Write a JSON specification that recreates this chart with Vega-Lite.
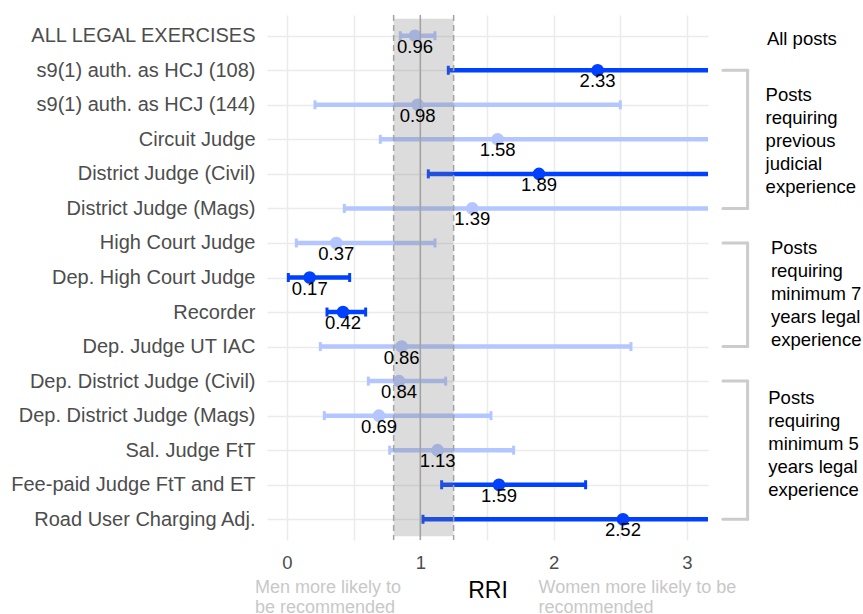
{
  "$schema": "https://vega.github.io/schema/vega-lite/v6.json",
  "width": 441,
  "height": 525,
  "autosize": {"type": "none"},
  "padding": {"left": 267, "top": 15, "right": 155, "bottom": 74},
  "background": "white",
  "config": {
    "view": {"stroke": null},
    "font": "Liberation Sans"
  },
  "datasets": {
    "rri": [
      {"post": "ALL LEGAL EXERCISES", "rri": 0.96, "lo": 0.85, "hi": 1.11, "sig": "no"},
      {"post": "s9(1) auth. as HCJ (108)", "rri": 2.33, "lo": 1.21, "hi": 4.5, "sig": "yes"},
      {"post": "s9(1) auth. as HCJ (144)", "rri": 0.98, "lo": 0.21, "hi": 2.5, "sig": "no"},
      {"post": "Circuit Judge", "rri": 1.58, "lo": 0.7, "hi": 4.5, "sig": "no"},
      {"post": "District Judge (Civil)", "rri": 1.89, "lo": 1.06, "hi": 4.5, "sig": "yes"},
      {"post": "District Judge (Mags)", "rri": 1.39, "lo": 0.43, "hi": 4.5, "sig": "no"},
      {"post": "High Court Judge", "rri": 0.37, "lo": 0.07, "hi": 1.11, "sig": "no"},
      {"post": "Dep. High Court Judge", "rri": 0.17, "lo": 0.01, "hi": 0.47, "sig": "yes"},
      {"post": "Recorder", "rri": 0.42, "lo": 0.3, "hi": 0.59, "sig": "yes"},
      {"post": "Dep. Judge UT IAC", "rri": 0.86, "lo": 0.25, "hi": 2.58, "sig": "no"},
      {"post": "Dep. District Judge (Civil)", "rri": 0.84, "lo": 0.61, "hi": 1.19, "sig": "no"},
      {"post": "Dep. District Judge (Mags)", "rri": 0.69, "lo": 0.28, "hi": 1.53, "sig": "no"},
      {"post": "Sal. Judge FtT", "rri": 1.13, "lo": 0.77, "hi": 1.7, "sig": "no"},
      {"post": "Fee-paid Judge FtT and ET", "rri": 1.59, "lo": 1.16, "hi": 2.24, "sig": "yes"},
      {"post": "Road User Charging Adj.", "rri": 2.52, "lo": 1.02, "hi": 4.5, "sig": "yes"}
    ],
    "refs": [
      {"ref": 0.8},
      {"ref": 1.25}
    ],
    "groups": [
      {"top": "s9(1) auth. as HCJ (108)", "bottom": "District Judge (Mags)"},
      {"top": "High Court Judge", "bottom": "Dep. Judge UT IAC"},
      {"top": "Dep. District Judge (Civil)", "bottom": "Road User Charging Adj."}
    ],
    "notes": [
      {"key": "all", "post": "ALL LEGAL EXERCISES", "note": "All posts"},
      {"key": "g1", "post": "Circuit Judge", "note": "Posts\nrequiring\nprevious\njudicial\nexperience"},
      {"key": "g2", "post": "Dep. High Court Judge", "note": "Posts\nrequiring\nminimum 7\nyears legal\nexperience"},
      {"key": "g3", "post": "Sal. Judge FtT", "note": "Posts\nrequiring\nminimum 5\nyears legal\nexperience"},
      {"key": "men", "post": "Road User Charging Adj.", "note": "Men more likely to\nbe recommended"},
      {"key": "women", "post": "Road User Charging Adj.", "note": "Women more likely to be\nrecommended"}
    ]
  },
  "layer": [
    {
      "data": {"name": "rri"},
      "mark": {"type": "rule", "strokeWidth": 4.5, "clip": true},
      "encoding": {
        "y": {
          "field": "post", "type": "nominal",
          "scale": {"type": "point", "padding": 0.6, "domain": ["ALL LEGAL EXERCISES", "s9(1) auth. as HCJ (108)", "s9(1) auth. as HCJ (144)", "Circuit Judge", "District Judge (Civil)", "District Judge (Mags)", "High Court Judge", "Dep. High Court Judge", "Recorder", "Dep. Judge UT IAC", "Dep. District Judge (Civil)", "Dep. District Judge (Mags)", "Sal. Judge FtT", "Fee-paid Judge FtT and ET", "Road User Charging Adj."]},
          "axis": {
            "title": null, "domain": false, "ticks": false, "tickSize": 0,
            "labelFontSize": 20, "labelColor": "#4d4d4d", "labelPadding": 12, "labelLimit": 400,
            "grid": true, "gridColor": "#ebebeb", "gridWidth": 1.5
          }
        },
        "x": {
          "field": "lo", "type": "quantitative",
          "scale": {"domain": [-0.15, 3.158], "nice": false, "zero": false},
          "axis": {
            "title": "RRI", "titleFontSize": 23, "titleFontWeight": "normal", "titleColor": "#000000", "titlePadding": 8,
            "values": [0, 0.5, 1, 1.5, 2, 2.5, 3],
            "labelExpr": "datum.value % 1 === 0 ? format(datum.value, 'd') : ''",
            "domain": false, "ticks": false, "tickSize": 0,
            "labelFontSize": 18.5, "labelColor": "#4d4d4d", "labelPadding": 13, "labelFlush": false, "labelOverlap": false,
            "grid": true, "gridColor": "#ebebeb", "gridWidth": 1.5
          }
        },
        "x2": {"field": "hi"},
        "color": {"field": "sig", "type": "nominal", "scale": {"domain": ["yes", "no"], "range": ["#0040ff", "#b3c6ff"]}, "legend": null}
      }
    },
    {
      "data": {"name": "rri"},
      "mark": {"type": "tick", "size": 9, "thickness": 3, "opacity": 1, "clip": true},
      "encoding": {
        "y": {"field": "post", "type": "nominal"},
        "x": {"field": "lo", "type": "quantitative"},
        "color": {"field": "sig", "type": "nominal", "legend": null}
      }
    },
    {
      "data": {"name": "rri"},
      "mark": {"type": "tick", "size": 9, "thickness": 3, "opacity": 1, "clip": true},
      "encoding": {
        "y": {"field": "post", "type": "nominal"},
        "x": {"field": "hi", "type": "quantitative"},
        "color": {"field": "sig", "type": "nominal", "legend": null}
      }
    },
    {
      "data": {"name": "rri"},
      "mark": {"type": "circle", "size": 160, "opacity": 1},
      "encoding": {
        "y": {"field": "post", "type": "nominal"},
        "x": {"field": "rri", "type": "quantitative"},
        "color": {"field": "sig", "type": "nominal", "legend": null}
      }
    },
    {
      "data": {"values": [{}]},
      "mark": {"type": "rect", "color": "#7f7f7f", "opacity": 0.27, "yOffset": -17, "y2Offset": 17},
      "encoding": {
        "x": {"datum": 0.8, "type": "quantitative"},
        "x2": {"datum": 1.25},
        "y": {"datum": "ALL LEGAL EXERCISES", "type": "nominal"},
        "y2": {"datum": "Road User Charging Adj."}
      }
    },
    {
      "data": {"name": "refs"},
      "mark": {"type": "rule", "color": "#a3a3a3", "strokeWidth": 1.5, "strokeDash": [6, 4]},
      "encoding": {
        "x": {"field": "ref", "type": "quantitative"}
      }
    },
    {
      "data": {"values": [{}]},
      "mark": {"type": "rule", "color": "#a3a3a3", "strokeWidth": 1.5},
      "encoding": {
        "x": {"datum": 1, "type": "quantitative"}
      }
    },
    {
      "data": {"name": "rri"},
      "mark": {"type": "text", "fontSize": 18.5, "color": "#000000", "dy": 11, "baseline": "middle", "align": "center"},
      "encoding": {
        "y": {"field": "post", "type": "nominal"},
        "x": {"field": "rri", "type": "quantitative"},
        "text": {"field": "rri", "type": "quantitative", "format": ".2f"}
      }
    },
    {
      "data": {"name": "groups"},
      "mark": {"type": "rule", "color": "#cccccc", "strokeWidth": 3, "strokeCap": "round"},
      "encoding": {
        "x": {"datum": 3.455, "type": "quantitative"},
        "y": {"field": "top", "type": "nominal"},
        "y2": {"field": "bottom"}
      }
    },
    {
      "data": {"name": "groups"},
      "mark": {"type": "rule", "color": "#cccccc", "strokeWidth": 3, "strokeCap": "round"},
      "encoding": {
        "x": {"datum": 3.27, "type": "quantitative"},
        "x2": {"datum": 3.455},
        "y": {"field": "top", "type": "nominal"}
      }
    },
    {
      "data": {"name": "groups"},
      "mark": {"type": "rule", "color": "#cccccc", "strokeWidth": 3, "strokeCap": "round"},
      "encoding": {
        "x": {"datum": 3.27, "type": "quantitative"},
        "x2": {"datum": 3.455},
        "y": {"field": "bottom", "type": "nominal"}
      }
    },
    {
      "data": {"name": "notes"},
      "transform": [{"filter": "datum.key === 'all'"}],
      "mark": {"type": "text", "fontSize": 18.5, "color": "#000000", "align": "left", "baseline": "middle", "yOffset": 3},
      "encoding": {
        "x": {"datum": 3.6, "type": "quantitative"},
        "y": {"field": "post", "type": "nominal"},
        "text": {"field": "note"}
      }
    },
    {
      "data": {"name": "notes"},
      "transform": [{"filter": "datum.key === 'g1'"}],
      "mark": {"type": "text", "fontSize": 18.5, "color": "#000000", "align": "left", "baseline": "middle", "lineBreak": "\n", "lineHeight": 23, "yOffset": -44},
      "encoding": {
        "x": {"datum": 3.59, "type": "quantitative"},
        "y": {"field": "post", "type": "nominal"},
        "text": {"field": "note"}
      }
    },
    {
      "data": {"name": "notes"},
      "transform": [{"filter": "datum.key === 'g2'"}],
      "mark": {"type": "text", "fontSize": 18.5, "color": "#000000", "align": "left", "baseline": "middle", "lineBreak": "\n", "lineHeight": 23, "yOffset": -30},
      "encoding": {
        "x": {"datum": 3.63, "type": "quantitative"},
        "y": {"field": "post", "type": "nominal"},
        "text": {"field": "note"}
      }
    },
    {
      "data": {"name": "notes"},
      "transform": [{"filter": "datum.key === 'g3'"}],
      "mark": {"type": "text", "fontSize": 18.5, "color": "#000000", "align": "left", "baseline": "middle", "lineBreak": "\n", "lineHeight": 23, "yOffset": -52},
      "encoding": {
        "x": {"datum": 3.61, "type": "quantitative"},
        "y": {"field": "post", "type": "nominal"},
        "text": {"field": "note"}
      }
    },
    {
      "data": {"name": "notes"},
      "transform": [{"filter": "datum.key === 'men'"}],
      "mark": {"type": "text", "fontSize": 18, "color": "#c8c8c8", "align": "left", "baseline": "top", "lineBreak": "\n", "lineHeight": 20, "yOffset": 60},
      "encoding": {
        "x": {"datum": -0.24, "type": "quantitative"},
        "y": {"field": "post", "type": "nominal"},
        "text": {"field": "note"}
      }
    },
    {
      "data": {"name": "notes"},
      "transform": [{"filter": "datum.key === 'women'"}],
      "mark": {"type": "text", "fontSize": 18, "color": "#c8c8c8", "align": "left", "baseline": "top", "lineBreak": "\n", "lineHeight": 20, "yOffset": 60},
      "encoding": {
        "x": {"datum": 1.887, "type": "quantitative"},
        "y": {"field": "post", "type": "nominal"},
        "text": {"field": "note"}
      }
    }
  ]
}
